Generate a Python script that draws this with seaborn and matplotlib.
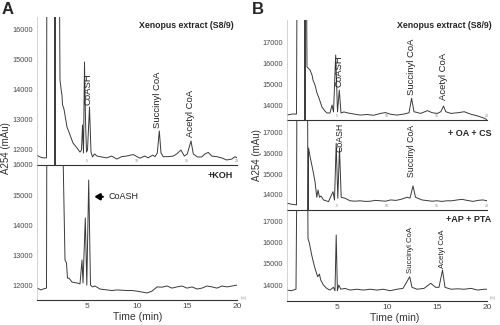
import matplotlib
matplotlib.use("Agg")
import matplotlib.pyplot as plt
import pandas as pd
import seaborn as sns

sns.set_style("white")
plt.rcParams["font.family"] = ["Liberation Sans", "DejaVu Sans"]

# HPLC traces: (retention time in min, A254 in mAU).
# Values far outside an axis window mark off-scale excursions of the detector.
a_s89 = [(0, 11830), (0.3, 11770), (0.6, 11740), (0.95, 11740), (1.0, 20000),
         (1.75, 20000), (1.8, 11000), (1.85, 20000), (2.2, 20000), (2.3, 14300),
         (2.45, 13900), (2.5, 13800), (2.55, 13500), (2.7, 13350), (3.0, 12760),
         (3.3, 12500), (3.6, 12230), (4.0, 12070), (4.3, 11930), (4.45, 12000),
         (4.55, 12830), (4.65, 11900), (4.75, 14910), (4.85, 12990), (4.95, 11930),
         (5.05, 12000), (5.25, 13420), (5.4, 11930), (5.55, 11770), (5.75, 11870),
         (6.0, 11800), (6.3, 11780), (6.97, 11740), (7.47, 11800), (7.97, 11700),
         (8.47, 11780), (8.97, 11800), (9.63, 11850), (10.0, 11780), (10.3, 11730),
         (10.8, 11800), (11.1, 11740), (11.57, 11830), (11.8, 11780), (12.03, 11900),
         (12.23, 12630), (12.4, 11900), (12.63, 11780), (13.13, 11780), (13.63, 11800),
         (13.97, 11870), (14.4, 12000), (14.73, 11800), (15.03, 11870), (15.4, 12300),
         (15.63, 11870), (16.03, 11770), (16.47, 11770), (16.8, 11870), (17.13, 11920),
         (17.47, 11800), (17.97, 11780), (18.47, 11740), (18.97, 11670), (19.47, 11700),
         (19.8, 11780), (20.0, 11740)]

a_koh = [(0, 11930), (0.2, 11900), (0.4, 11870), (0.6, 11900), (0.95, 11930),
         (1.0, 20000), (2.4, 20000), (2.8, 12860), (2.95, 12760), (3.05, 12260),
         (3.2, 12260), (3.5, 12130), (4.0, 12100), (4.3, 12070), (4.5, 12860),
         (4.6, 12100), (4.83, 14250), (4.98, 12030), (5.17, 15500), (5.35, 12030),
         (5.55, 11970), (5.8, 12000), (6.3, 11900), (7.0, 11870), (7.5, 11850),
         (8.0, 11870), (8.5, 11860), (9.0, 11850), (9.5, 11850), (10.0, 11830),
         (10.5, 11800), (11.0, 11770), (11.5, 11830), (12.0, 11970), (12.5, 11960),
         (13.0, 12000), (13.5, 11930), (14.0, 11970), (14.5, 12000), (15.0, 11930),
         (15.5, 11970), (16.0, 11900), (16.5, 11930), (17.0, 12000), (17.5, 11970),
         (18.0, 11930), (18.5, 12000), (19.0, 11970), (19.5, 12000), (20.0, 12030)]

b_s89 = [(0, 13520), (0.5, 13570), (0.95, 13570), (1.0, 20000), (1.75, 20000),
         (1.8, 12000), (1.85, 20000), (1.95, 20000), (2.0, 15810), (2.3, 15670),
         (2.5, 15430), (2.6, 15190), (2.8, 14950), (3.0, 14570), (3.2, 14330),
         (3.5, 13900), (3.8, 13710), (4.0, 13620), (4.3, 13620), (4.5, 14000),
         (4.65, 13670), (4.87, 16380), (5.05, 13670), (5.23, 14710), (5.4, 13620),
         (5.7, 13670), (6.0, 13630), (6.67, 13570), (7.34, 13520), (8.0, 13550),
         (8.67, 13510), (9.35, 13600), (9.85, 13640), (10.35, 13560), (11.0, 13520),
         (11.7, 13570), (12.2, 13630), (12.46, 14320), (12.7, 13680), (13.37, 13600),
         (14.04, 13730), (14.54, 13630), (15.04, 13600), (15.38, 13680), (15.65, 13950),
         (15.88, 13680), (16.38, 13600), (17.05, 13630), (17.72, 13680), (18.4, 13560),
         (19.06, 13480), (19.73, 13370), (20.0, 13300)]

b_oa_cs = [(0, 13600), (0.5, 13550), (0.95, 13520), (1.0, 20000), (2.05, 20000),
           (2.1, 12500), (2.15, 16270), (2.31, 15850), (2.48, 15450), (2.65, 15050),
           (2.8, 14640), (2.98, 13890), (3.1, 14240), (3.25, 13890), (3.4, 13950),
           (3.65, 13760), (4.15, 13680), (4.6, 14160), (4.75, 13760), (4.92, 16500),
           (5.08, 13840), (5.25, 16260), (5.42, 13890), (5.82, 13840), (6.3, 13720),
           (6.8, 13700), (7.3, 13720), (7.85, 13690), (8.35, 13700), (8.85, 13740),
           (9.35, 13720), (9.85, 13700), (10.35, 13760), (10.9, 13740), (11.4, 13790),
           (12.0, 13890), (12.3, 13850), (12.6, 14440), (12.85, 13890), (13.5, 13760),
           (14.0, 13730), (14.5, 13700), (15.0, 13720), (15.5, 13690), (16.0, 13720),
           (16.5, 13720), (17.0, 13760), (17.5, 13790), (18.0, 13740), (18.6, 13690),
           (19.1, 13740), (19.6, 13760), (20.0, 13720)]

b_ap_pta = [(0, 13760), (0.45, 13730), (0.9, 13800), (1.0, 20000), (2.05, 20000),
            (2.1, 16200), (2.24, 15980), (2.47, 15420), (2.63, 15100), (2.8, 14790),
            (3.07, 14390), (3.24, 14520), (3.37, 14240), (3.64, 14000), (3.97, 13840),
            (4.3, 13760), (4.64, 13890), (4.8, 13730), (4.92, 16370), (5.04, 13730),
            (5.18, 14000), (5.38, 13800), (5.8, 13840), (6.3, 13760), (6.97, 13800),
            (7.64, 13760), (8.3, 13800), (8.97, 13760), (9.64, 13800), (10.3, 13730),
            (11.0, 13800), (11.6, 13840), (12.27, 14390), (12.5, 13890), (13.0, 13800),
            (13.7, 13840), (14.37, 14080), (14.87, 13890), (15.2, 13890), (15.55, 14710),
            (15.8, 13890), (16.4, 13800), (17.07, 13820), (17.7, 13800), (18.4, 13840),
            (19.07, 13760), (19.7, 13800), (20.0, 13800)]

a_yticks = [12000, 13000, 14000, 15000, 16000]
b_yticks = [14000, 15000, 16000, 17000]
time_ticks = [5, 10, 15, 20]

# peak labels: (text, time, A254 at the foot of the label)
a_s89_peaks = [("CoASH", 5.1, 13490), ("Succinyl CoA", 12.0, 12730), ("Acetyl CoA", 15.3, 12430)]
b_s89_peaks = [("CoASH", 5.2, 14860), ("Succinyl CoA", 12.5, 14480), ("Acetyl CoA", 15.65, 14240)]
b_oa_cs_peaks = [("CoASH", 5.3, 16080), ("Succinyl CoA", 12.5, 14870)]
b_ap_pta_peaks = [("Succinyl CoA", 12.35, 14570), ("Acetyl CoA", 15.55, 14800)]

W, H = 500, 325
fig = plt.figure(figsize=(W / 100, H / 100), dpi=100)
fig.patch.set_facecolor("white")

LINE = "#3a3a3a"
TICK = "#4a4a4a"


def box(x0, x1, y0, y1):
    """Axes rectangle from pixel edges (left, right, top, bottom)."""
    return [x0 / W, 1 - y1 / H, (x1 - x0) / W, (y1 - y0) / H]


def trace_axes(rect, trace, ylim, yticks, bottom_panel, peaks, peak_size):
    ax = fig.add_axes(rect)
    df = pd.DataFrame(trace, columns=["time", "a254"])
    sns.lineplot(data=df, x="time", y="a254", ax=ax, color=LINE, lw=0.7,
                 sort=False, estimator=None)
    ax.set_xlim(0, 20)
    ax.set_ylim(*ylim)
    ax.set_yticks(yticks)
    ax.set_yticklabels([str(v) for v in yticks])
    ax.set_xticks(time_ticks)
    ax.set_xlabel("")
    ax.set_ylabel("")
    ax.set_facecolor("none")
    for s in ("top", "right"):
        ax.spines[s].set_visible(False)
    ax.spines["left"].set_color("#c4c4c4")
    ax.spines["left"].set_linewidth(0.5)
    ax.spines["bottom"].set_color("#333333")
    ax.spines["bottom"].set_linewidth(0.8)
    ax.tick_params(axis="y", direction="out", length=2, width=0.5, color="#888888",
                   labelsize=5.3, labelcolor=TICK, pad=1)
    if bottom_panel:
        ax.tick_params(axis="x", direction="out", length=1.5, width=0.6, color="#555555",
                       labelsize=6, labelcolor=TICK, pad=0.5)
    else:
        ax.tick_params(axis="x", direction="in", length=1.5, width=0.4, color="#888888",
                       labelsize=2.6, labelcolor="#888888", pad=-4)
    for name, t, v in peaks:
        ax.text(t, v, name, rotation=90, ha="center", va="bottom",
                fontsize=peak_size, color="#222222")
    return ax


# panel A
trace_axes(box(37, 237, 17, 165), a_s89, (11504, 16397), a_yticks, False, a_s89_peaks, 6.8)
ax_koh = trace_axes(box(37, 237, 165, 300), a_koh, (11537, 16000), a_yticks, True, [], 6.5)
ax_koh.annotate("", xy=(5.45, 14950), xytext=(6.85, 14950),
                arrowprops=dict(arrowstyle="-|>,head_length=0.3,head_width=0.18",
                                color="black", lw=1.7))
ax_koh.text(7.1, 14950, "CoASH", ha="left", va="center", fontsize=6.5, color="#222222")

# panel B
trace_axes(box(287, 487, 20, 120), b_s89, (13286, 18048), b_yticks, False, b_s89_peaks, 6.8)
trace_axes(box(287, 487, 120, 210), b_oa_cs, (13274, 17629), b_yticks, False, b_oa_cs_peaks, 6.3)
trace_axes(box(287, 487, 210, 301), b_ap_pta, (13242, 17555), b_yticks, True, b_ap_pta_peaks, 5.6)


def ftext(x, y, s, **kw):
    fig.text(x / W, 1 - y / H, s, **kw)


ftext(2, 9, "A", fontsize=12, fontweight="bold", ha="left", va="center")
ftext(252, 9, "B", fontsize=12, fontweight="bold", ha="left", va="center")
ftext(186, 25, "Xenopus extract (S8/9)", fontsize=6.3, fontweight="bold", ha="center", va="center")
ftext(444, 25, "Xenopus extract (S8/9)", fontsize=6.3, fontweight="bold", ha="center", va="center")
ftext(220, 176, "+KOH", fontsize=6.5, fontweight="bold", ha="center", va="center")
ftext(470, 133, "+ OA + CS", fontsize=6.5, fontweight="bold", ha="center", va="center")
ftext(469, 219, "+AP + PTA", fontsize=6.5, fontweight="bold", ha="center", va="center")
ftext(6, 148, "A254 (mAu)", fontsize=7, rotation=90, ha="center", va="center", color="#333333")
ftext(257, 155, "A254 (mAu)", fontsize=7, rotation=90, ha="center", va="center", color="#333333")
ftext(138, 317, "Time (min)", fontsize=7.5, ha="center", va="center", color="#333333")
ftext(395, 318, "Time (min)", fontsize=7.5, ha="center", va="center", color="#333333")
ftext(244, 298, "(m)", fontsize=2.8, ha="center", va="center", color="#888888")
ftext(493, 298, "(m)", fontsize=2.8, ha="center", va="center", color="#888888")

fig.savefig("out.png", dpi=100, facecolor="white")
